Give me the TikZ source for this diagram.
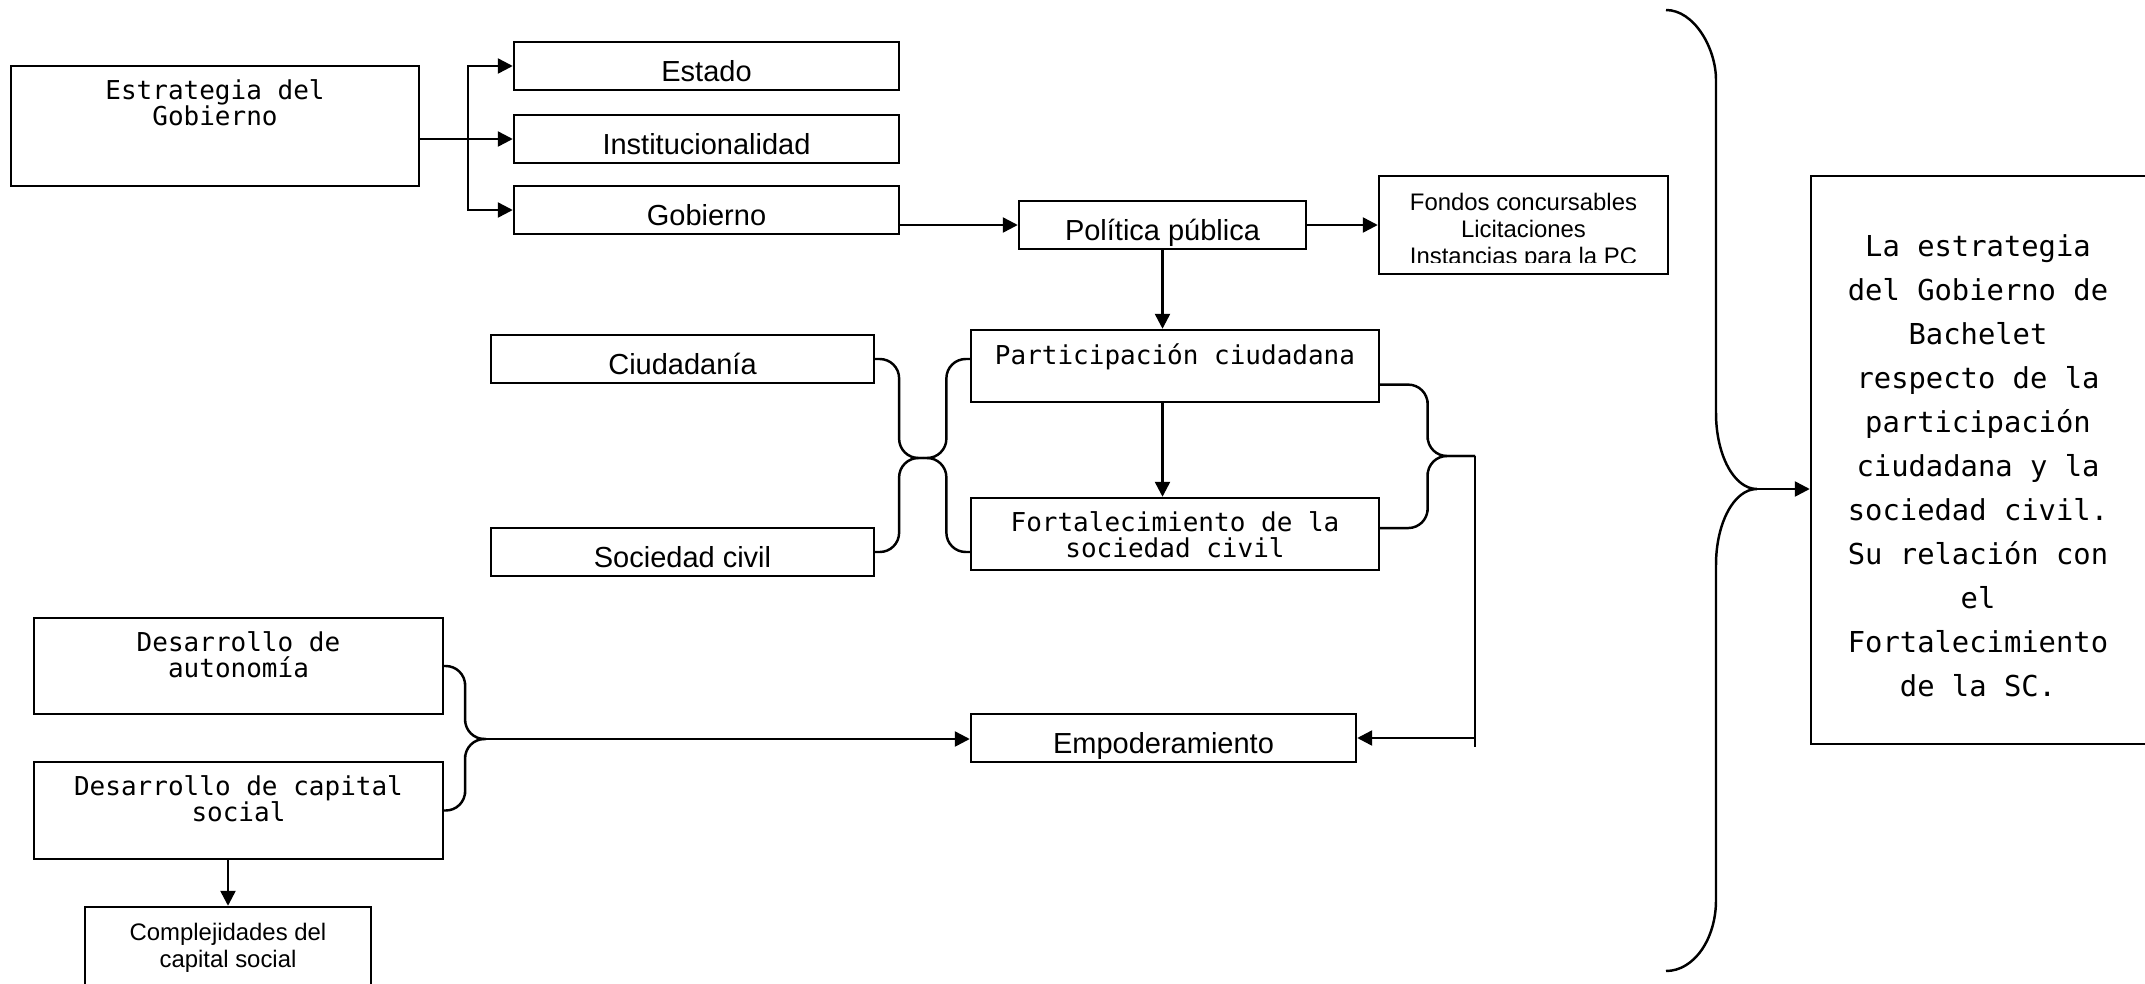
\documentclass[tikz,border=0pt]{standalone}
\usepackage{fontspec}
\setmainfont{Liberation Sans}
\newfontfamily\monofont{DejaVu Sans Mono}
\usetikzlibrary{positioning,calc,arrows.meta}
\begin{document}
\begin{tikzpicture}[x=0.1mm, y=-0.1mm, line width=0.7pt,
    >={Triangle[length=1.5mm,width=1.5mm]},
    box/.style={draw, inner sep=0pt, minimum height=4.8mm},
    wide/.style={box, minimum width=38.5mm, text height=0.88em, text depth=0pt,
      font=\fontsize{8.25}{10}\selectfont},
    mono/.style={inner sep=0pt, align=center, font=\monofont\fontsize{7.4}{7.4}\selectfont},
    small/.style={inner sep=0pt, align=center, font=\fontsize{6.8}{7.7}\selectfont},
    brc/.style={rounded corners=5.5pt}]
  \useasboundingbox (0,0) rectangle (2145,983);
  \clip (0,0) rectangle (2145,983);

  \node[box, minimum width=40.8mm, minimum height=12mm] (estr) at (215,126) {};
  \node[mono, below=1.4mm of estr.north] {Estrategia del\\Gobierno};
  \node[wide] (estado) at (706.5,66) {Estado};
  \node[wide] (inst) at (706.5,139) {Institucionalidad};
  \node[wide] (gob) at (706.5,210) {Gobierno};
  \coordinate (jn) at (468,139);
  \draw (estr.east |- jn) -- (jn);
  \draw[->] (jn) |- (estado.west);
  \draw[->] (jn) -- (inst.west);
  \draw[->] (jn) |- (gob.west);

  \node[wide, minimum width=28.7mm] (pol) at (1162.5,225) {Política pública};
  \node[box, minimum width=28.9mm, minimum height=9.8mm] (fondos) at (1523.5,225) {};
  \begin{scope}
    \clip (fondos.north west) rectangle ($(fondos.east)+(0,37)$);
    \node[small, below=1.7mm of fondos.north] {Fondos concursables\\Licitaciones\\Instancias para la PC};
  \end{scope}
  \draw[->] (gob.east |- pol.west) -- (pol.west);
  \draw[->] (pol) -- (fondos);

  \node[box, minimum width=40.8mm, minimum height=7.2mm] (part) at (1175,366) {};
  \node[mono, below=1.4mm of part.north] {Participación ciudadana};
  \node[box, minimum width=40.8mm, minimum height=7.2mm] (fort) at (1175,534) {};
  \node[mono, below=1.4mm of fort.north] {Fortalecimiento de la\\sociedad civil};
  \draw[->] (pol) -- (pol |- part.north);
  \draw[->] (pol |- part.south) -- (pol |- fort.north);

  \node[wide, minimum width=38.3mm] (ciud) at (682.5,359) {Ciudadanía};
  \node[wide, minimum width=38.3mm] (soc) at (682.5,552) {Sociedad civil};
  \coordinate (tipM) at (923,458);
  \foreach \n in {ciud,soc} {
    \draw[brc] (\n.east) -| ($(\n.east)!.5!(tipM)$) |- (tipM);
    \draw[brc] (tipM) -| ($(tipM)!.5!(part.west |- \n.east)$) |- (part.west |- \n.east);
  }

  \coordinate (pR) at ($(part.north east)!.75!(part.south east)$);
  \coordinate (fR) at ($(fort.north east)!.42!(fort.south east)$);
  \coordinate (tipR) at (1475,456);
  \foreach \p in {pR,fR}
    \draw[brc] (\p) -| ($(\p)!.5!(tipR)$) |- (tipR);
  \node[wide] (emp) at (1163.5,738) {Empoderamiento};
  \coordinate (vEnd) at (1475,747);
  \draw (tipR) -- (vEnd);
  \draw[->] (tipR |- emp.east) -- (emp.east);

  \node[box, minimum width=40.9mm, minimum height=9.6mm] (auton) at (238.5,666) {};
  \node[mono, below=1.4mm of auton.north] {Desarrollo de\\autonomía};
  \node[box, minimum width=40.9mm, minimum height=9.7mm] (capsoc) at (238.5,810.5) {};
  \node[mono, below=1.4mm of capsoc.north] {Desarrollo de capital\\social};
  \coordinate (tipL) at (486,739);
  \foreach \n in {auton,capsoc}
    \draw[brc] (\n.east) -| ($(\n.east)!.5!(tipL)$) |- (tipL);
  \draw[->] (tipL) -- (emp.west |- tipL);

  \node[box, minimum width=28.6mm, minimum height=10mm] (compl) at (228,957) {};
  \node[small, below=1.65mm of compl.north] {Complejidades del\\capital social};
  \draw[->] (compl |- capsoc.south) -- (compl.north);

  \coordinate (bTop) at (1666,10);
  \coordinate (bTip) at (1757,489);
  \coordinate (bBot) at (1666,971);
  \draw (bTop) .. controls (1694,10) and (1716,48) .. (1716,80) -- (1716,413)
    .. controls (1716,455) and (1734,489) .. (bTip)
    .. controls (1734,489) and (1716,523) .. (1716,565) -- (1716,900)
    .. controls (1716,939) and (1694,971) .. (bBot);
  \node[box, minimum width=34.2mm, minimum height=56.8mm] (summary) at (1982,460) {};
  \node[inner sep=0pt, align=center, font=\monofont\fontsize{8.2}{12.5}\selectfont,
    below=5.9mm of summary.north, xshift=-0.4mm] {La estrategia\\del Gobierno de\\Bachelet\\respecto de la\\participación\\ciudadana y la\\sociedad civil.\\Su relación con\\el\\Fortalecimiento\\de la SC.};
  \draw[->] (bTip) -- (summary.west |- bTip);
\end{tikzpicture}
\end{document}
